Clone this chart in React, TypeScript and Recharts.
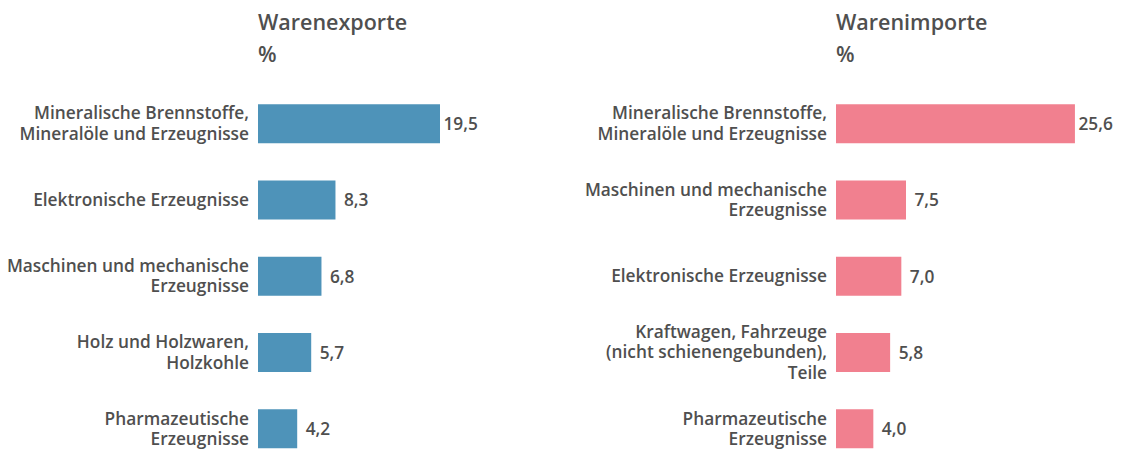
import React from "react";
import { BarChart, Bar, XAxis, YAxis, LabelList } from "recharts";

const exportCategories = [
  "Mineralische Brennstoffe,\nMineralöle und Erzeugnisse",
  "Elektronische Erzeugnisse",
  "Maschinen und mechanische\nErzeugnisse",
  "Holz und Holzwaren,\nHolzkohle",
  "Pharmazeutische\nErzeugnisse",
];
const exportValues = [19.5, 8.3, 6.8, 5.7, 4.2];

const importCategories = [
  "Mineralische Brennstoffe,\nMineralöle und Erzeugnisse",
  "Maschinen und mechanische\nErzeugnisse",
  "Elektronische Erzeugnisse",
  "Kraftwagen, Fahrzeuge\n(nicht schienengebunden),\nTeile",
  "Pharmazeutische\nErzeugnisse",
];
const importValues = [25.6, 7.5, 7.0, 5.8, 4.0];

const titles = ["Warenexporte", "Warenimporte"];
const unitLabel = "%";

const FONT = "'Open Sans', sans-serif";
const TEXT = "#4f4f4f";
const BLUE = "#4e93b9";
const PINK = "#f1808f";

const LINE_H = 20.3;

const CategoryTick = (props: any) => {
  const { x, y, payload } = props;
  const lines = String(payload.value).split("\n");
  const startDy = -((lines.length - 1) * LINE_H) / 2;
  return (
    <text
      x={x}
      y={y}
      textAnchor="end"
      fill={TEXT}
      fontFamily={FONT}
      fontSize={17.3}
      fontWeight={600}
    >
      {lines.map((l, i) => (
        <tspan key={i} x={x} dy={i === 0 ? startDy + 6.3 : LINE_H}>
          {l}
        </tspan>
      ))}
    </text>
  );
};

const fmt = (v: any) => Number(v).toFixed(1).replace(".", ",");

const makeValueLabel = (maxVal: number) => (props: any) => {
  const { x, y, width, height, value } = props;
  const gap = value === maxVal ? 3.5 : 8.5;
  return (
    <text
      x={x + width + gap}
      y={y + height / 2 + 6.3}
      textAnchor="start"
      fill={TEXT}
      fontFamily={FONT}
      fontSize={17.3}
      fontWeight={600}
    >
      {fmt(value)}
    </text>
  );
};

const Panel = ({
  cats,
  vals,
  color,
  left,
  width,
  yAxisWidth,
}: {
  cats: string[];
  vals: number[];
  color: string;
  left: number;
  width: number;
  yAxisWidth: number;
}) => {
  const data = cats.map((c, i) => ({ name: c, value: vals[i] }));
  const plotW = 261.333;
  const maxVal = Math.max(...vals);
  return (
    <div style={{ position: "absolute", left, top: 0 }}>
      <BarChart
        width={width}
        height={470}
        data={data}
        layout="vertical"
        margin={{ top: 85.2, right: width - yAxisWidth - plotW, bottom: 3.5, left: 0 }}
        barSize={39}
      >
        <XAxis type="number" domain={[0, 28]} hide />
        <YAxis
          type="category"
          dataKey="name"
          width={yAxisWidth}
          axisLine={false}
          tickLine={false}
          tickSize={0}
          tickMargin={9}
          interval={0}
          tick={<CategoryTick />}
        />
        <Bar dataKey="value" fill={color} isAnimationActive={false}>
          <LabelList dataKey="value" content={makeValueLabel(maxVal)} />
        </Bar>
      </BarChart>
    </div>
  );
};

export default function App() {
  return (
    <div
      style={{
        position: "absolute",
        left: 0,
        top: 0,
        width: 1121,
        height: 450,
        overflow: "hidden",
        background: "#fff",
      }}
    >
      <Panel cats={exportCategories} vals={exportValues} color={BLUE} left={0} width={560} yAxisWidth={258} />
      <Panel cats={importCategories} vals={importValues} color={PINK} left={560} width={561} yAxisWidth={276} />
      <svg
        width={1121}
        height={450}
        style={{ position: "absolute", left: 0, top: 0, pointerEvents: "none" }}
      >
        {[258, 836].map((x, i) => (
          <g key={i} fill={TEXT} fontFamily={FONT} fontSize={21.5} fontWeight={600}>
            <text x={x} y={29.5}>{titles[i]}</text>
            <text x={x} y={61.5}>{unitLabel}</text>
          </g>
        ))}
      </svg>
    </div>
  );
}
